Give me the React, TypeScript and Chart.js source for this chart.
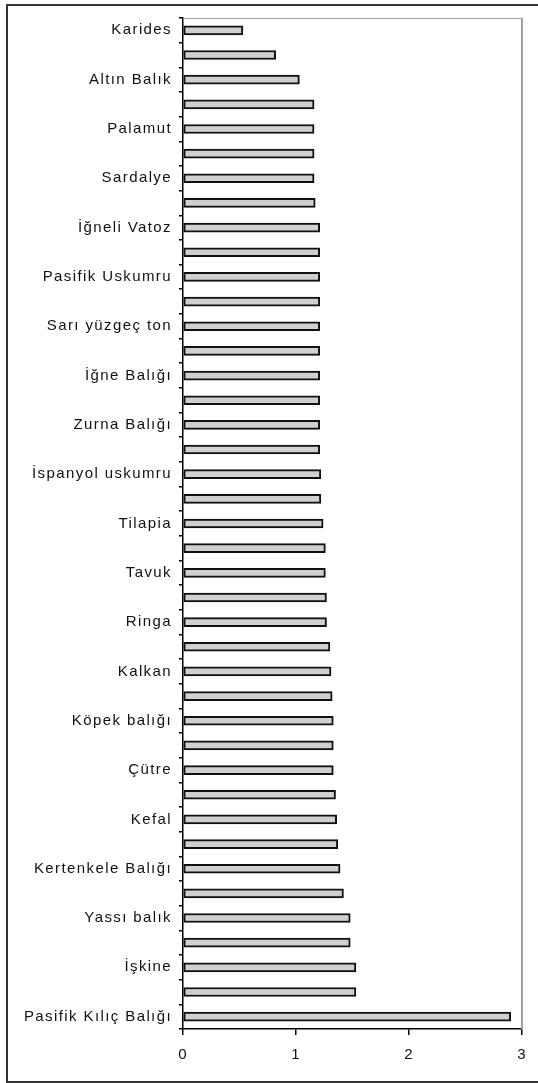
import React, { useEffect, useRef } from "react";
import { Chart, registerables } from "chart.js";

Chart.register(...registerables);

const categories = [
  "Karides", "", "Altın Balık", "", "Palamut", "", "Sardalye", "",
  "İğneli Vatoz", "", "Pasifik Uskumru", "", "Sarı yüzgeç ton", "",
  "İğne Balığı", "", "Zurna Balığı", "", "İspanyol uskumru", "",
  "Tilapia", "", "Tavuk", "", "Ringa", "", "Kalkan", "",
  "Köpek balığı", "", "Çütre", "", "Kefal", "", "Kertenkele Balığı", "",
  "Yassı balık", "", "İşkine", "", "Pasifik Kılıç Balığı",
];

const values = [
  0.53, 0.82, 1.03, 1.16, 1.16, 1.16, 1.16, 1.17,
  1.21, 1.21, 1.21, 1.21, 1.21, 1.21,
  1.21, 1.21, 1.21, 1.21, 1.22, 1.22,
  1.24, 1.26, 1.26, 1.27, 1.27, 1.30, 1.31, 1.32,
  1.33, 1.33, 1.33, 1.35, 1.36, 1.37, 1.39, 1.42,
  1.48, 1.48, 1.53, 1.53, 2.90,
];

const xTicks = [0, 1, 2, 3];

const FONT = { family: "'Liberation Sans', Arial, sans-serif", size: 15 };

const stylePlugin = {
  id: "stylePlugin",
  beforeDraw(chart: any) {
    chart.ctx.letterSpacing = "1.4px";
  },
  afterDraw(chart: any) {
    const { ctx, chartArea } = chart;
    const { left, right, top, bottom } = chartArea;
    ctx.save();
    ctx.strokeStyle = "#a0a0a0";
    ctx.lineWidth = 1;
    ctx.beginPath();
    ctx.moveTo(left, top + 0.5);
    ctx.lineTo(right, top + 0.5);
    ctx.stroke();
    ctx.lineWidth = 2;
    ctx.beginPath();
    ctx.moveTo(right, top);
    ctx.lineTo(right, bottom);
    ctx.stroke();
    ctx.restore();
  },
};

export default function App() {
  const ref = useRef<HTMLCanvasElement>(null);

  useEffect(() => {
    if (!ref.current) return;
    const chart = new Chart(ref.current, {
      type: "bar",
      data: {
        labels: categories,
        datasets: [
          {
            data: values,
            backgroundColor: "#d0d0d0",
            borderColor: "#111",
            borderWidth: 2,
            borderSkipped: false,
            barThickness: 9,
          },
        ],
      },
      options: {
        indexAxis: "y",
        animation: false,
        responsive: false,
        devicePixelRatio: 1,
        layout: { padding: { left: 10, right: 16, top: 18, bottom: 14 } },
        plugins: {
          legend: { display: false },
          tooltip: { enabled: false },
        },
        scales: {
          y: {
            type: "category",
            offset: true,
            grid: {
              display: true,
              drawOnChartArea: false,
              drawTicks: true,
              tickLength: 4,
              lineWidth: 1.5,
              color: "#000",
              offset: true,
            },
            border: { display: true, color: "#000", width: 1.5 },
            ticks: { autoSkip: false, font: FONT, color: "#111", padding: 7 },
            afterFit: (s: any) => {
              s.width = 173;
            },
          },
          x: {
            type: "linear",
            min: xTicks[0],
            max: xTicks[xTicks.length - 1],
            afterBuildTicks: (s: any) => {
              s.ticks = xTicks.map((v) => ({ value: v }));
            },
            grid: {
              display: true,
              drawOnChartArea: false,
              drawTicks: true,
              tickLength: 6,
              lineWidth: 1.5,
              color: "#000",
            },
            border: { display: true, color: "#000", width: 1.5 },
            ticks: { font: FONT, color: "#111", padding: 11 },
            afterFit: (s: any) => {
              s.height = 40;
            },
          },
        },
      },
      plugins: [stylePlugin],
    });
    return () => chart.destroy();
  }, []);

  return (
    <div
      style={{
        position: "absolute",
        left: 0,
        top: 0,
        width: 538,
        height: 1083,
        overflow: "hidden",
        background: "#fff",
      }}
    >
      <div
        style={{
          position: "absolute",
          left: 6,
          top: 4,
          width: 540,
          height: 1079,
          borderLeft: "2px solid #333",
          borderTop: "2px solid #333",
          borderBottom: "2px solid #333",
          boxSizing: "border-box",
        }}
      />
      <canvas
        ref={ref}
        width={538}
        height={1083}
        style={{ position: "absolute", left: 0, top: 0, width: 538, height: 1083 }}
      />
    </div>
  );
}
